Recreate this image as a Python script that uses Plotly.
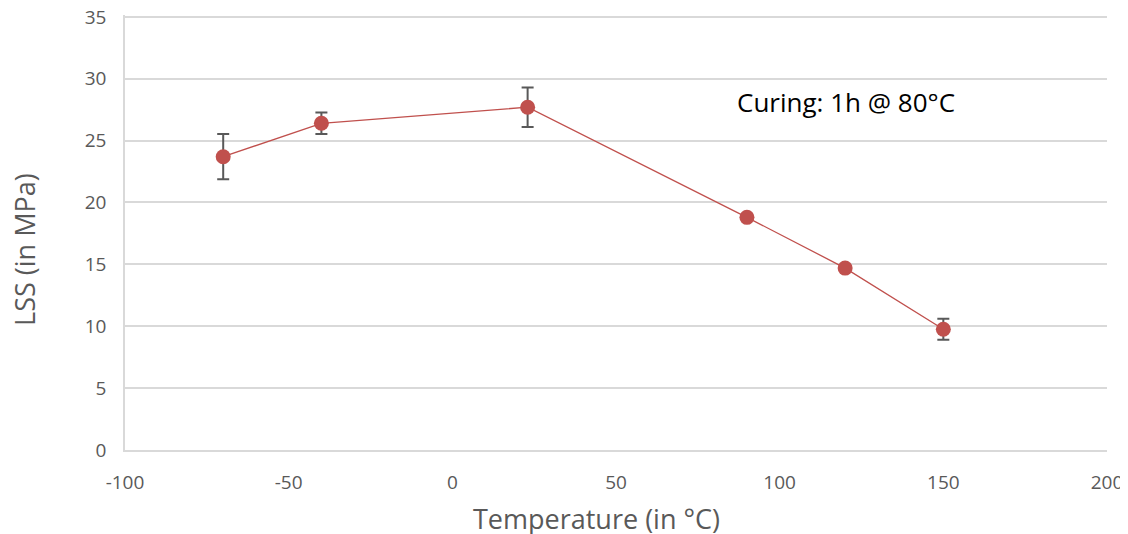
import plotly.graph_objects as go

temperature = [-70, -40, 23, 90, 120, 150]
lss = [23.7, 26.4, 27.7, 18.8, 14.7, 9.76]
lss_err = [1.83, 0.87, 1.6, 0, 0, 0.85]
x_ticks = [-100, -50, 0, 50, 100, 150, 200]
x_tick_text = ["-100", "-50", "0", "50", "100", "150", "200"]
y_ticks = [0, 5, 10, 15, 20, 25, 30, 35]

FONT = "Open Sans, Liberation Sans"

fig = go.Figure()
fig.add_trace(go.Scatter(
    x=temperature, y=lss, mode="lines+markers",
    line=dict(color="#C0504D", width=1.3),
    marker=dict(color="#C0504D", size=15),
    error_y=dict(type="data", array=lss_err, visible=True,
                 color="#595959", thickness=2, width=6),
    showlegend=False,
))

fig.add_annotation(x=0.621, y=0.80, xref="paper", yref="paper",
                   text="Curing: 1h @ 80°C", showarrow=False,
                   xanchor="left", yanchor="middle",
                   font=dict(family=FONT, size=26, color="#000000"))

# axis titles placed as annotations for exact positioning
fig.add_annotation(x=0.48, y=-0.157, xref="paper", yref="paper",
                   text="Temperature (in °C)", showarrow=False,
                   xanchor="center", yanchor="middle",
                   font=dict(family=FONT, size=27, color="#595959"))
fig.add_annotation(x=-0.1018, y=0.46, xref="paper", yref="paper",
                   text="LSS (in MPa)", showarrow=False, textangle=-90,
                   xanchor="center", yanchor="middle",
                   font=dict(family=FONT, size=27, color="#595959"))

fig.update_layout(
    width=1120, height=526,
    margin=dict(l=117, r=21, t=7, b=84, autoexpand=False),
    plot_bgcolor="white", paper_bgcolor="white",
    font=dict(family=FONT, color="#595959"),
    xaxis=dict(range=[-100, 200], tickvals=x_ticks, ticktext=x_tick_text, showgrid=False,
               automargin=False, ticklabeloverflow="allow",
               zeroline=False, showline=True, linecolor="#D9D9D9", linewidth=1.5,
               ticks="", tickfont=dict(size=19, color="#595959"), ticklabelstandoff=14),
    yaxis=dict(range=[0, 35.15], tickvals=y_ticks, showgrid=True, gridcolor="#D9D9D9",
               automargin=False, ticklabeloverflow="allow",
               gridwidth=1.5, zeroline=False, showline=True, linecolor="#D9D9D9", linewidth=1.5,
               ticks="", tickfont=dict(size=19, color="#595959"), ticklabelstandoff=13),
)

fig.write_html("out.html")
